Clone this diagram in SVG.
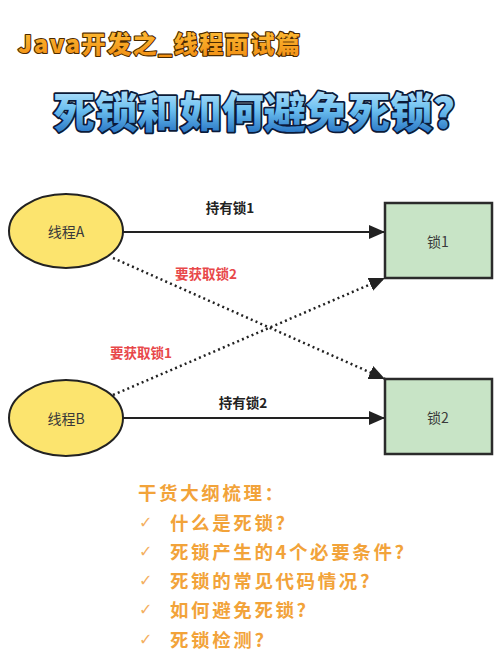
<svg xmlns="http://www.w3.org/2000/svg" width="500" height="666" viewBox="0 0 500 666">
<defs>
<linearGradient id="gOr" x1="0" y1="0" x2="0" y2="1">
<stop offset="0" stop-color="#ffc23a"/>
<stop offset="1" stop-color="#f08c12"/>
</linearGradient>
<linearGradient id="gBl" x1="0" y1="0" x2="0" y2="1">
<stop offset="0" stop-color="#d8f2ff"/>
<stop offset="0.5" stop-color="#6cc0f0"/>
<stop offset="1" stop-color="#1560b8"/>
</linearGradient>
<marker id="ahB" viewBox="0 0 10 10" refX="10" refY="5" markerWidth="16" markerHeight="14" markerUnits="userSpaceOnUse" orient="auto" preserveAspectRatio="none">
<path d="M0,0 L10,5 L0,10 Z" fill="#222"/>
</marker>
</defs>
<style>
.cjk{font-family:"Noto Sans CJK SC","Noto Sans",sans-serif}
.node{fill:#fce46e;stroke:#222;stroke-width:2}
.box{fill:#c8e4c6;stroke:#2b2b2b;stroke-width:2.5}
.nt{font-size:14px;fill:#3a3a3a;text-anchor:middle;dominant-baseline:central}
.lbl{font-size:13.5px;font-weight:bold;fill:#222;text-anchor:middle;dominant-baseline:central}
.red{fill:#e8484a}
.solid{stroke:#222;stroke-width:2;fill:none}
.dot{stroke:#222;stroke-width:2.5;fill:none;stroke-dasharray:2 3.2}
.li{font-size:18.5px;font-weight:bold;fill:#f2a33a;letter-spacing:2.6px;dominant-baseline:central}
.ck{font-family:"DejaVu Sans",sans-serif;font-size:16px;fill:#f4b060;dominant-baseline:central}
</style>
<rect width="500" height="666" fill="#fff"/>
<text class="cjk" x="18" y="53" font-size="24" font-weight="900" fill="url(#gOr)" stroke="#4a2a00" stroke-width="2.2" paint-order="stroke" stroke-linejoin="round" textLength="282" lengthAdjust="spacing">Java开发之_线程面试篇</text>
<text class="cjk" x="254" y="128" font-size="42" font-weight="900" fill="url(#gBl)" stroke="#0b1a38" stroke-width="3.5" paint-order="stroke" stroke-linejoin="round" text-anchor="middle" textLength="402" lengthAdjust="spacing">死锁和如何避免死锁?</text>
<g id="connectors">
<line class="solid" x1="123" y1="232" x2="385" y2="232" marker-end="url(#ahB)"/>
<line class="solid" x1="123" y1="418" x2="385" y2="418" marker-end="url(#ahB)"/>
<line class="dot" x1="113" y1="258" x2="385" y2="379" marker-end="url(#ahB)"/>
<line class="dot" x1="113" y1="395" x2="385" y2="278" marker-end="url(#ahB)"/>
<text class="cjk lbl" x="230" y="207">持有锁1</text>
<text class="cjk lbl red" x="206" y="273">要获取锁2</text>
<text class="cjk lbl red" x="141" y="352">要获取锁1</text>
<text class="cjk lbl" x="243" y="402">持有锁2</text>
</g>
<g id="threadA">
<ellipse class="node" cx="66" cy="231" rx="57" ry="37"/>
<text class="cjk nt" x="66" y="231">线程A</text>
</g>
<g id="threadB">
<ellipse class="node" cx="66" cy="418" rx="57" ry="38"/>
<text class="cjk nt" x="66" y="418">线程B</text>
</g>
<g id="lock1">
<rect class="box" x="385" y="203" width="107" height="75"/>
<text class="cjk nt" x="438" y="241">锁1</text>
</g>
<g id="lock2">
<rect class="box" x="385" y="379" width="107" height="75"/>
<text class="cjk nt" x="438" y="417">锁2</text>
</g>
<g id="outline">
<text class="cjk li" x="138" y="492">干货大纲梳理：</text>
<text class="ck" x="139" y="522">✓</text>
<text class="cjk li" x="170" y="522">什么是死锁?</text>
<text class="ck" x="139" y="551">✓</text>
<text class="cjk li" x="170" y="551">死锁产生的4个必要条件?</text>
<text class="ck" x="139" y="580">✓</text>
<text class="cjk li" x="170" y="580">死锁的常见代码情况?</text>
<text class="ck" x="139" y="609">✓</text>
<text class="cjk li" x="170" y="609">如何避免死锁?</text>
<text class="ck" x="139" y="639">✓</text>
<text class="cjk li" x="170" y="639">死锁检测?</text>
</g>
</svg>
